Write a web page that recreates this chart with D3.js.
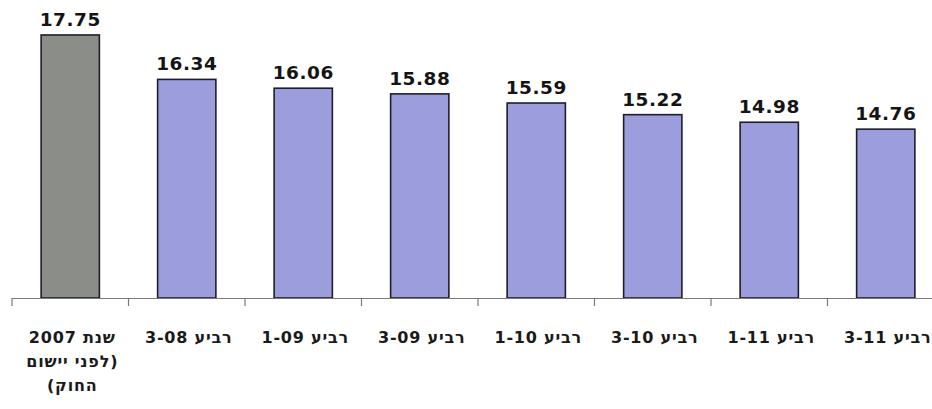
<!DOCTYPE html>
<html>
<head>
<meta charset="utf-8">
<script src="https://cdn.jsdelivr.net/npm/d3@7"></script>
<style>
  html, body { margin: 0; padding: 0; background: #ffffff; }
  svg { display: block; }
</style>
</head>
<body>
<svg id="chart" width="932" height="409"></svg>
<script>
// Data
const categoryKeys = ["2007", "3-08", "1-09", "3-09", "1-10", "3-10", "1-11", "3-11"];
const categoryLabels = [
  ["שנת 2007", "(לפני יישום", "החוק)"],
  ["רביע 3-08"],
  ["רביע 1-09"],
  ["רביע 3-09"],
  ["רביע 1-10"],
  ["רביע 3-10"],
  ["רביע 1-11"],
  ["רביע 3-11"]
];
const values = [17.75, 16.34, 16.06, 15.88, 15.59, 15.22, 14.98, 14.76];
const valueLabels = ["17.75", "16.34", "16.06", "15.88", "15.59", "15.22", "14.98", "14.76"];
const highlightIndex = [0];

const svg = d3.select("#chart");
const baseY = 298;

const x = d3.scaleBand()
  .domain(categoryKeys)
  .range([12, 944])
  .paddingInner(0.5)
  .paddingOuter(0.25);

const y = d3.scaleLinear()
  .domain([9.4, 18])
  .range([baseY, baseY - 8.6 * 31.5]);

// Bars
svg.append("g").selectAll("rect")
  .data(values)
  .enter().append("rect")
  .attr("x", (d, i) => x(categoryKeys[i]))
  .attr("y", d => y(d))
  .attr("width", x.bandwidth())
  .attr("height", d => baseY - y(d))
  .attr("fill", (d, i) => highlightIndex.includes(i) ? "#8b8e88" : "#9b9ddc")
  .attr("stroke", "#1d1d2b")
  .attr("stroke-width", 1.6);

// Value labels
svg.append("g").selectAll("text")
  .data(values)
  .enter().append("text")
  .attr("x", (d, i) => x(categoryKeys[i]) + x.bandwidth() / 2)
  .attr("y", d => y(d) - 9)
  .attr("text-anchor", "middle")
  .attr("font-family", "DejaVu Sans, Verdana, sans-serif")
  .attr("font-weight", "bold")
  .attr("font-size", 18.5)
  .attr("letter-spacing", 0.5)
  .attr("fill", "#141414")
  .text((d, i) => valueLabels[i]);

// Axis line with ticks at category boundaries
const step = x.step();
const axisG = svg.append("g");
axisG.append("line")
  .attr("x1", 12).attr("x2", 932)
  .attr("y1", baseY + 0.5).attr("y2", baseY + 0.5)
  .attr("stroke", "#7a7a7a").attr("stroke-width", 1.2);
const boundaries = d3.range(categoryKeys.length).map(i => x(categoryKeys[i]) - step * 0.25);
axisG.selectAll("line.tick")
  .data(boundaries)
  .enter().append("line")
  .attr("class", "tick")
  .attr("x1", d => d).attr("x2", d => d)
  .attr("y1", baseY).attr("y2", baseY + 8)
  .attr("stroke", "#7a7a7a").attr("stroke-width", 1.2);

// Category labels
const labG = svg.append("g");
categoryLabels.forEach((lines, i) => {
  const cx = x(categoryKeys[i]) + x.bandwidth() / 2 + 2;
  lines.forEach((ln, j) => {
    labG.append("text")
      .attr("x", cx)
      .attr("y", 343 + j * 24)
      .attr("text-anchor", "middle")
      .attr("direction", "rtl")
      .attr("unicode-bidi", "embed")
      .attr("font-family", "DejaVu Sans, Verdana, sans-serif")
      .attr("font-weight", "bold")
      .attr("font-size", 16)
      .attr("letter-spacing", 0.8)
      .attr("fill", "#1a1a1a")
      .text(ln);
  });
});
</script>
</body>
</html>
